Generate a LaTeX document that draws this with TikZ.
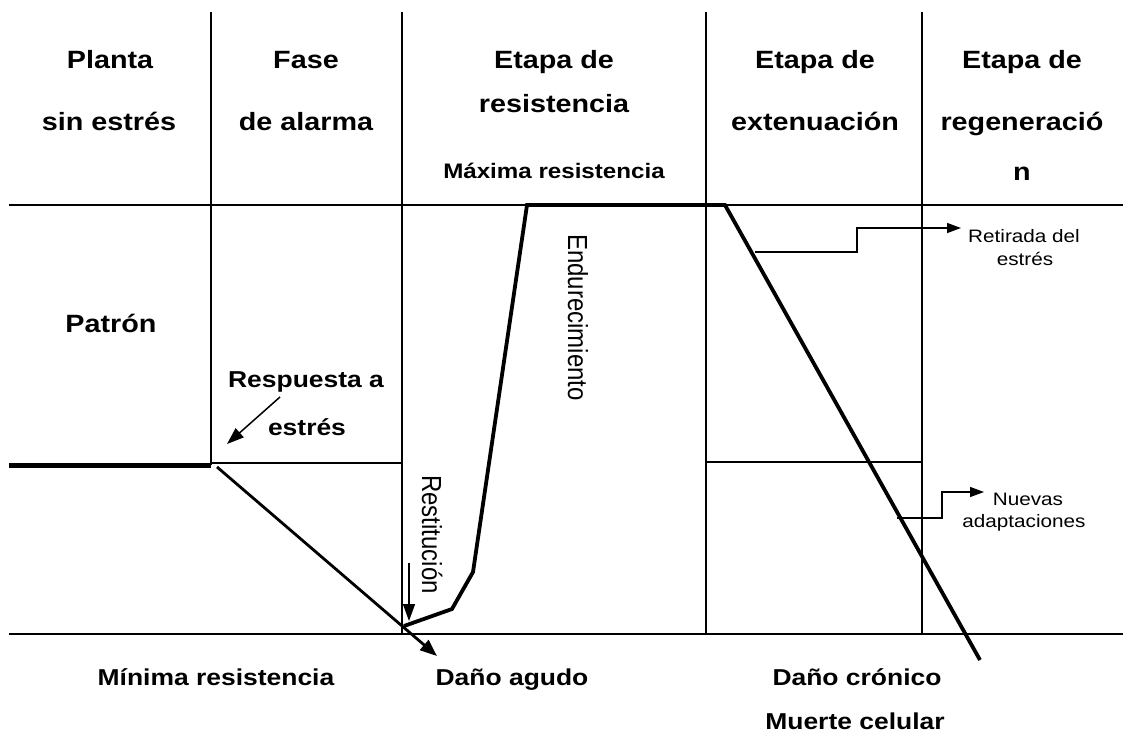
\documentclass[tikz,border=0pt]{standalone}
\usepackage{fontspec}
\setmainfont{Liberation Sans}[FakeStretch=1.15]
\newfontfamily\rotfont{Liberation Sans}
\usetikzlibrary{arrows.meta}
\begin{document}
\begin{tikzpicture}[x=1pt,y=-1pt,
  grid/.style={line width=2.3pt},
  thinarrow/.style={line width=1.3pt,-{Triangle[length=14pt,width=10pt]}},
  midarrow/.style={line width=1.5pt,-{Triangle[length=17pt,width=12pt]}},
  bigarrow/.style={line width=2.8pt,-{Triangle[length=17pt,width=13pt]}},
  curveline/.style={line width=3.8pt},
  head/.style={font=\fontsize{25}{30}\selectfont\bfseries, anchor=base, inner sep=0pt},
  sub/.style={font=\fontsize{21}{25}\selectfont\bfseries, anchor=base, inner sep=0pt},
  lab/.style={font=\fontsize{23}{28}\selectfont\bfseries, anchor=base, inner sep=0pt},
  note/.style={font=\fontsize{18}{22}\selectfont, anchor=base, inner sep=0pt},
  vnote/.style={font=\rotfont\fontsize{24}{28}\selectfont, rotate=-90, anchor=base west, inner sep=0pt}
]
\useasboundingbox (0,0) rectangle (1123,733);

% grid
\draw[grid] (9,205) -- (1123,205);
\draw[grid] (211,12) -- (211,465);
\draw[grid] (402,12) -- (402,634);
\draw[grid] (706,12) -- (706,634);
\draw[grid] (922,12) -- (922,634);
\draw[grid] (211,463) -- (402,463);
\draw[grid] (706,462) -- (922,462);
\draw[grid] (9,634) -- (1123,634);
\draw[line width=5pt] (9,465) -- (211,465);

% headers
\node[head] (h1a) at (110,69) {Planta};
\node[head] (h1b) at (109,130) {sin estrés};
\node[head] (h2a) at (306,69) {Fase};
\node[head] (h2b) at (306,130) {de alarma};
\node[head] (h3a) at (554,69) {Etapa de};
\node[head] (h3b) at (554,113) {resistencia};
\node[sub]  (max) at (554,178) {Máxima resistencia};
\node[head] (h4a) at (815,69) {Etapa de};
\node[head] (h4b) at (815,130) {extenuación};
\node[head] (h5a) at (1022,69) {Etapa de};
\node[head] (h5b) at (1022,130) {regeneració};
\node[head] (h5c) at (1022,180) {n};

% labels
\node[head] (patron) at (111,332) {Patrón};
\node[lab] (resp1) at (306,387) {Respuesta a};
\node[lab] (resp2) at (307,435) {estrés};
\node[lab] (minr) at (216,685) {Mínima resistencia};
\node[lab] (agudo) at (512,685) {Daño agudo};
\node[lab] (cronico) at (857,685) {Daño crónico};
\node[lab] (muerte) at (855,729) {Muerte celular};
\node[note] (ret1) at (1024,242) {Retirada del};
\node[note] (ret2) at (1025,265) {estrés};
\node[note] (nue1) at (1028,505) {Nuevas};
\node[note] (nue2) at (1024,527) {adaptaciones};
\node[vnote] (restit) at (422,475) {\scalebox{1}[1.15]{Restitución}};
\node[vnote] (endur) at (568,234) {\scalebox{1}[1.15]{Endurecimiento}};

% coordinates
\coordinate (c0) at (404,626);
\coordinate (c1) at (452,609);
\coordinate (c2) at (473,572);
\coordinate (c3) at (527,205);
\coordinate (c4) at (725,205);
\coordinate (c5) at (980,660);
\coordinate (d0) at (217,467);
\coordinate (d1) at (437,656);
\coordinate (ra) at (280,397);
\coordinate (rb) at (227,444);
\coordinate (sa) at (409,563);
\coordinate (sb) at (409,621);
\coordinate (t0) at (755,252);
\coordinate (t1) at (857,252);
\coordinate (t2) at (857,228);
\coordinate (t3) at (961,228);
\coordinate (n0) at (897,518);
\coordinate (n1) at (942,518);
\coordinate (n2) at (942,492);
\coordinate (n3) at (984,492);

% curves and arrows
\draw[curveline] (c0) -- (c1) -- (c2) -- (c3) -- (c4) -- (c5);
\draw[bigarrow] (d0) -- (d1);
\draw[midarrow] (ra) -- (rb);
\draw[midarrow] (sa) -- (sb);
\draw[thinarrow] (t0) -- (t1) -- (t2) -- (t3);
\draw[thinarrow] (n0) -- (n1) -- (n2) -- (n3);
\end{tikzpicture}
\end{document}
